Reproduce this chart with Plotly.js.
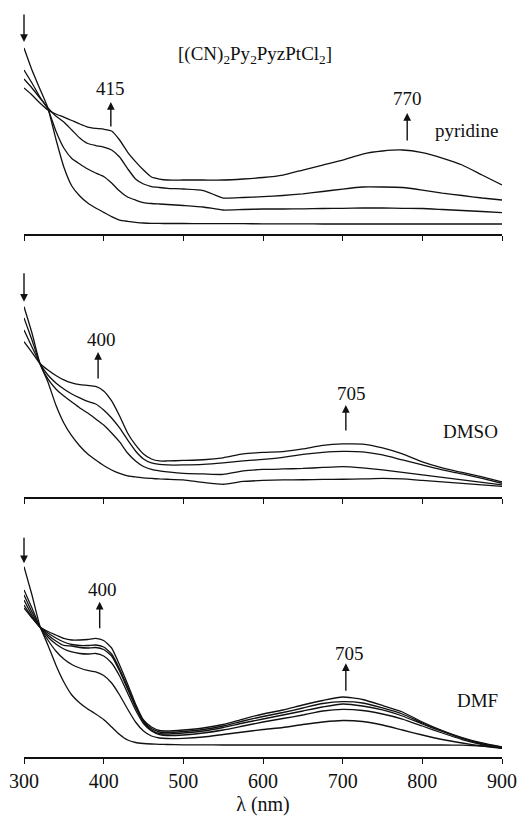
<!DOCTYPE html>
<html>
<head>
<meta charset="utf-8">
<script src="https://cdn.plot.ly/plotly-3.0.1.min.js"></script>
<style>html,body{margin:0;padding:0;background:#fff;}#chart{width:522px;height:817px;}</style>
</head>
<body>
<div id="chart"></div>
<script>
// Wavelength grid (nm)
const wavelength = [300,310,320,330,340,350,360,370,380,390,400,410,420,430,440,450,460,470,480,
  500,525,550,575,600,625,650,675,700,725,750,775,800,825,850,875,900];

// Pyridine (initial -> final)
const pyr1 = [1.86,1.64,1.45,1.26,0.95,0.67,0.48,0.38,0.31,0.26,0.217,0.174,0.14,0.127,0.117,0.11,0.107,0.106,0.105,
  0.105,0.104,0.103,0.103,0.102,0.102,0.101,0.100,0.100,0.100,0.100,0.100,0.100,0.100,0.100,0.100,0.100];
const pyr2 = [1.64,1.51,1.37,1.25,1.03,0.86,0.755,0.70,0.65,0.61,0.575,0.51,0.43,0.37,0.34,0.315,0.305,0.30,0.295,
  0.285,0.27,0.24,0.245,0.25,0.25,0.252,0.255,0.257,0.26,0.26,0.257,0.255,0.245,0.235,0.225,0.213];
const pyr3 = [1.55,1.46,1.36,1.26,1.18,1.12,1.04,0.96,0.905,0.885,0.87,0.84,0.77,0.655,0.55,0.50,0.475,0.465,0.457,
  0.45,0.435,0.36,0.365,0.373,0.385,0.402,0.425,0.45,0.47,0.47,0.465,0.44,0.41,0.385,0.36,0.34];
const pyr4 = [1.46,1.39,1.31,1.24,1.20,1.169,1.135,1.10,1.07,1.057,1.048,1.03,0.94,0.82,0.724,0.64,0.57,0.55,0.54,
  0.54,0.54,0.54,0.55,0.565,0.59,0.64,0.69,0.74,0.80,0.83,0.84,0.815,0.76,0.69,0.59,0.49];

// DMSO
const dmso1 = [1.903,1.64,1.335,1.15,0.92,0.74,0.61,0.51,0.43,0.37,0.315,0.27,0.235,0.21,0.20,0.19,0.185,0.18,0.177,
  0.17,0.145,0.127,0.155,0.165,0.17,0.172,0.175,0.177,0.18,0.185,0.18,0.165,0.15,0.135,0.12,0.105];
const dmso2 = [1.79,1.57,1.335,1.18,1.08,1.01,0.95,0.89,0.84,0.78,0.72,0.64,0.55,0.44,0.36,0.305,0.275,0.26,0.25,
  0.235,0.23,0.225,0.26,0.275,0.28,0.285,0.295,0.303,0.29,0.27,0.245,0.22,0.195,0.17,0.145,0.12];
const dmso3 = [1.67,1.50,1.335,1.22,1.14,1.08,1.03,0.99,0.955,0.93,0.87,0.79,0.69,0.57,0.46,0.38,0.34,0.325,0.32,
  0.32,0.325,0.34,0.36,0.375,0.395,0.425,0.445,0.455,0.45,0.42,0.37,0.32,0.27,0.23,0.185,0.137];
const dmso4 = [1.553,1.445,1.335,1.27,1.215,1.17,1.14,1.123,1.115,1.105,1.06,0.96,0.81,0.64,0.52,0.43,0.38,0.36,0.36,
  0.365,0.372,0.392,0.43,0.445,0.453,0.48,0.515,0.53,0.528,0.49,0.43,0.35,0.29,0.245,0.20,0.15];

// DMF
const dmf1 = [1.903,1.62,1.31,1.12,0.92,0.75,0.62,0.54,0.48,0.43,0.375,0.30,0.225,0.17,0.145,0.135,0.13,0.127,0.125,
  0.122,0.121,0.12,0.12,0.12,0.12,0.12,0.12,0.12,0.12,0.12,0.12,0.12,0.12,0.118,0.11,0.095];
const dmf2 = [1.67,1.49,1.30,1.17,1.06,0.98,0.925,0.89,0.865,0.85,0.815,0.74,0.62,0.48,0.35,0.26,0.21,0.19,0.185,
  0.187,0.20,0.225,0.25,0.275,0.295,0.325,0.35,0.365,0.355,0.32,0.27,0.22,0.175,0.14,0.11,0.087];
const dmf3 = [1.62,1.45,1.30,1.20,1.13,1.08,1.05,1.035,1.03,1.035,1.01,0.94,0.81,0.64,0.47,0.335,0.26,0.225,0.215,
  0.22,0.24,0.27,0.31,0.35,0.385,0.42,0.46,0.477,0.465,0.43,0.38,0.31,0.24,0.175,0.125,0.09];
const dmf4 = [1.57,1.42,1.30,1.22,1.16,1.115,1.11,1.095,1.09,1.095,1.075,1.01,0.86,0.68,0.50,0.35,0.27,0.235,0.23,
  0.24,0.26,0.295,0.34,0.38,0.42,0.46,0.50,0.53,0.51,0.47,0.41,0.33,0.255,0.185,0.13,0.09];
const dmf5 = [1.52,1.40,1.30,1.24,1.19,1.15,1.125,1.115,1.115,1.12,1.10,1.03,0.88,0.70,0.51,0.36,0.285,0.25,0.245,
  0.255,0.275,0.31,0.36,0.405,0.445,0.49,0.535,0.553,0.54,0.49,0.43,0.34,0.26,0.19,0.135,0.095];
const dmf6 = [1.49,1.39,1.30,1.255,1.22,1.185,1.17,1.17,1.175,1.187,1.165,1.09,0.92,0.73,0.53,0.37,0.30,0.265,0.26,
  0.27,0.29,0.325,0.38,0.43,0.47,0.52,0.565,0.60,0.575,0.515,0.45,0.35,0.265,0.195,0.14,0.10];

const tickVals = [300,400,500,600,700,800,900];
const tickText = ['300','400','500','600','700','800','900'];

const FONT = '"Liberation Serif", serif';
const lineStyle = {color:'#111', width:1.3, shape:'spline', smoothing:0.5};

function tr(y, xa, ya) {
  return {x: wavelength, y: y, xaxis: xa, yaxis: ya, type:'scatter', mode:'lines',
    line: lineStyle, hoverinfo:'skip', showlegend:false};
}

const data = [
  tr(pyr1,'x','y'), tr(pyr2,'x','y'), tr(pyr3,'x','y'), tr(pyr4,'x','y'),
  tr(dmso1,'x2','y2'), tr(dmso2,'x2','y2'), tr(dmso3,'x2','y2'), tr(dmso4,'x2','y2'),
  tr(dmf1,'x3','y3'), tr(dmf2,'x3','y3'), tr(dmf3,'x3','y3'), tr(dmf4,'x3','y3'), tr(dmf5,'x3','y3'), tr(dmf6,'x3','y3')
];

function xax(anchor, labels) {
  return {anchor: anchor, range:[300,900], showgrid:false, zeroline:false,
    showline:true, linecolor:'#111', linewidth:1.6, ticks:'outside', ticklen:5, tickwidth:1, tickcolor:'#111',
    tickmode:'array', tickvals: tickVals, ticktext: tickText, showticklabels: labels,
    tickfont:{family:FONT, size:20, color:'#111'}};
}
function yax(domain, top) {
  return {domain: domain, range:[0, top], visible:false, fixedrange:true};
}

const txt = {family:FONT, size:19, color:'#111'};
function label(text, x, y, xr, yr, xanchor) {
  return {text:text, x:x, y:y, xref:xr, yref:yr, showarrow:false, font:txt,
    xanchor: xanchor || 'center', yanchor:'middle'};
}
function arrow(x, y, xr, yr, ay) {
  return {text:'', x:x, y:y, xref:xr, yref:yr, showarrow:true, ax:0, ay:ay,
    arrowhead:2, arrowsize:1.1, arrowwidth:1.4, arrowcolor:'#111'};
}

const annotations = [
  // pyridine panel
  label('[(CN)<sub>2</sub>Py<sub>2</sub>PyzPtCl<sub>2</sub>]', 590, 1.79, 'x', 'y'),
  label('415', 409, 1.46, 'x', 'y'),
  arrow(409, 1.32, 'x', 'y', 26),
  label('770', 781, 1.36, 'x', 'y'),
  arrow(781, 1.21, 'x', 'y', 29),
  label('pyridine', 897, 1.04, 'x', 'y', 'right'),
  arrow(300, 1.92, 'x', 'y', -29),
  // DMSO panel
  label('400', 397, 1.57, 'x2', 'y2'),
  arrow(393, 1.45, 'x2', 'y2', 28),
  label('705', 711, 1.037, 'x2', 'y2'),
  arrow(704, 0.92, 'x2', 'y2', 27),
  label('DMSO', 897, 0.65, 'x2', 'y2', 'right'),
  arrow(300, 1.953, 'x2', 'y2', -30),
  // DMF panel
  label('400', 399, 1.677, 'x3', 'y3'),
  arrow(395, 1.553, 'x3', 'y3', 28),
  label('705', 708, 1.037, 'x3', 'y3'),
  arrow(704, 0.937, 'x3', 'y3', 29),
  label('DMF', 897, 0.563, 'x3', 'y3', 'right'),
  arrow(300, 1.937, 'x3', 'y3', -27)
];

const xaxis3 = xax('y3', true);
xaxis3.title = {text:'λ (nm)', font:{family:FONT, size:20, color:'#111'}, standoff:6};

const layout = {
  width:522, height:817,
  margin:{l:24, r:20, t:10, b:60},
  paper_bgcolor:'#fff', plot_bgcolor:'rgba(0,0,0,0)',
  font:{family:FONT, color:'#111'},
  showlegend:false,
  xaxis: xax('y', false),
  xaxis2: xax('y2', false),
  xaxis3: xaxis3,
  yaxis: yax([0.7001, 1.0], 2.24),
  yaxis2: yax([0.3481, 0.6627], 2.35),
  yaxis3: yax([0.0, 0.3146], 2.35),
  annotations: annotations
};

Plotly.newPlot('chart', data, layout, {displayModeBar:false, staticPlot:true});
</script>
</body>
</html>
